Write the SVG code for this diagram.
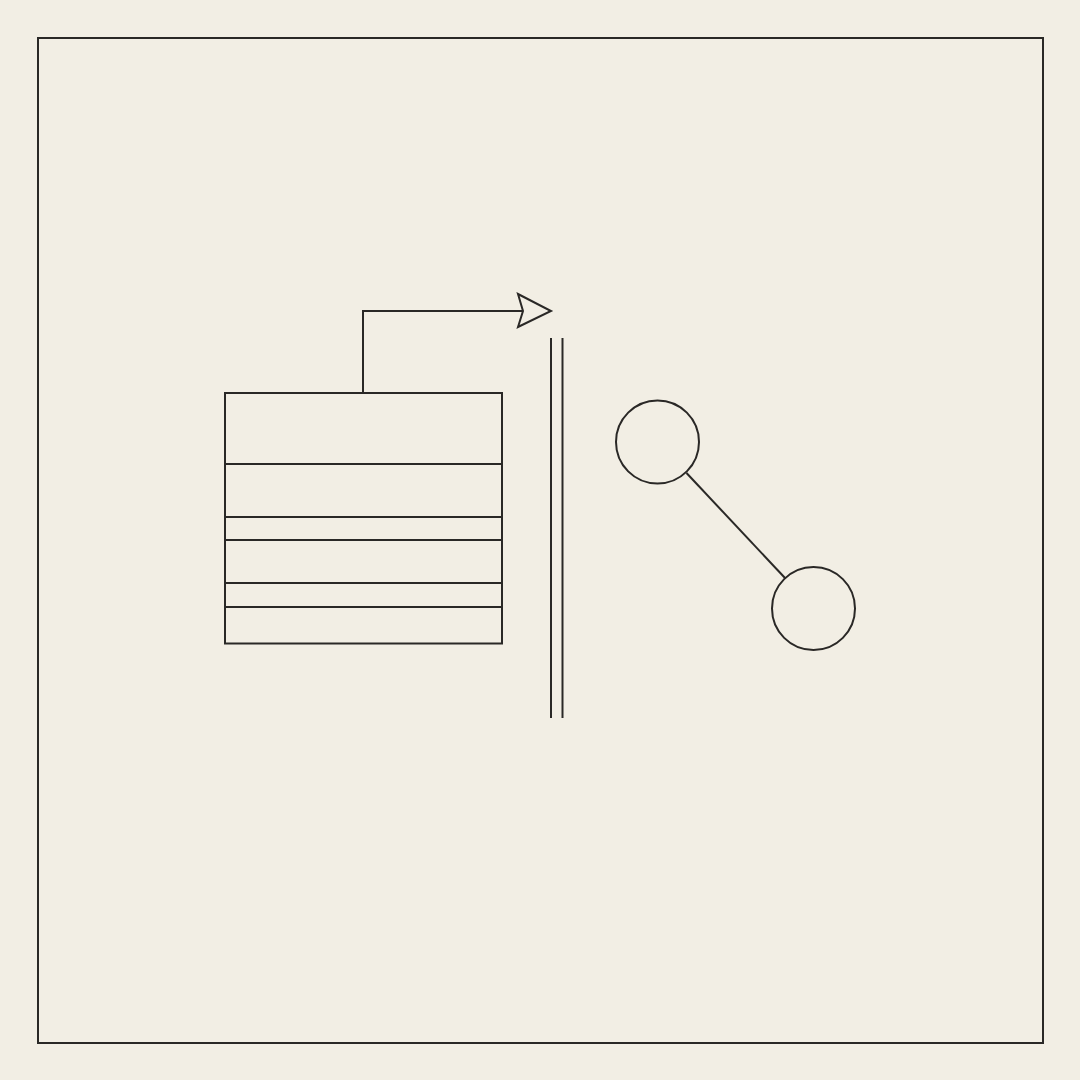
<svg xmlns="http://www.w3.org/2000/svg" width="1080" height="1080" viewBox="0 0 1080 1080">
  <style>
    .s { fill: none; stroke: #2a2826; stroke-width: 2; }
    .f { fill: #f2eee4; stroke: #2a2826; stroke-width: 2; }
  </style>
  <rect x="0" y="0" width="1080" height="1080" fill="#f2eee4"/>
  <rect id="frame" class="s" x="38" y="38" width="1005" height="1005"/>
  <g id="stack">
    <rect class="f" x="225" y="393" width="277" height="250.5"/>
    <line class="s" x1="225" y1="464" x2="502" y2="464"/>
    <line class="s" x1="225" y1="517" x2="502" y2="517"/>
    <line class="s" x1="225" y1="540" x2="502" y2="540"/>
    <line class="s" x1="225" y1="583" x2="502" y2="583"/>
    <line class="s" x1="225" y1="607" x2="502" y2="607"/>
  </g>
  <g id="barrier">
    <line class="s" x1="551" y1="338" x2="551" y2="718"/>
    <line class="s" x1="562.5" y1="338" x2="562.5" y2="718"/>
  </g>
  <g id="node-a">
    <circle class="f" cx="657.5" cy="442" r="41.5"/>
  </g>
  <g id="node-b">
    <circle class="f" cx="813.5" cy="608.5" r="41.5"/>
  </g>
  <g id="connectors">
    <polyline class="s" points="363,393 363,311 523,311"/>
    <polygon class="f" points="518,294 551,311 518,327 523,311" stroke-linejoin="miter"/>
    <line class="s" x1="686.5" y1="473" x2="785" y2="578"/>
  </g>
</svg>
